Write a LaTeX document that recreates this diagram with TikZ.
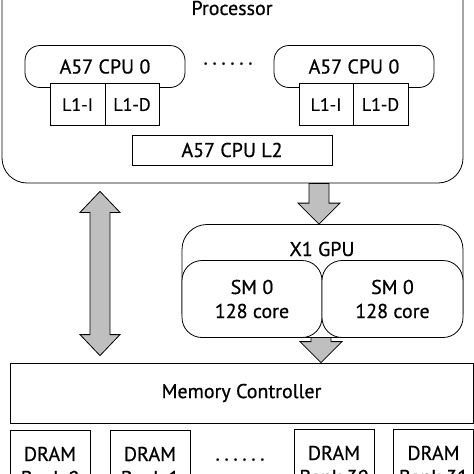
\documentclass[tikz,border=0pt]{standalone}
\usepackage{fontspec}
\setmainfont[FakeBold=0.6]{PT Sans}
\usetikzlibrary{calc}

% block arrows: shaft from #1, tip at #2
\newcommand\fatdown[2]{%
  \draw[fat] ($(#1)+(-10,0)$) -- ($(#2)+(-10,-21)$) -- ($(#2)+(-21,-21)$) -- (#2)
    -- ($(#2)+(21,-21)$) -- ($(#2)+(10,-21)$) -- ($(#1)+(10,0)$) -- cycle;}
\newcommand\fatboth[2]{%
  \draw[fat] (#1) -- ($(#1)+(20,21)$) -- ($(#1)+(10,21)$) -- ($(#2)+(10,-21)$) -- ($(#2)+(20,-21)$)
    -- (#2) -- ($(#2)+(-20,-21)$) -- ($(#2)+(-10,-21)$) -- ($(#1)+(-10,21)$) -- ($(#1)+(-20,21)$) -- cycle;}
\newcommand\sixdots{\textperiodcentered\kern3.6pt\textperiodcentered\kern3.6pt\textperiodcentered\kern3.6pt\textperiodcentered\kern3.6pt\textperiodcentered\kern3.6pt\textperiodcentered}

\begin{document}
\begin{tikzpicture}[
		x=1pt, y=-1pt, line width=0.8pt,
		every node/.style={font=\fontsize{20}{24}\selectfont},
		box/.style={draw, fill=white, inner sep=0pt},
		rbox/.style={box, rounded corners=15pt},
		fat/.style={draw, fill=black!25, line join=miter},
		small/.style={font=\fontsize{18}{20}\selectfont},
	]
	\useasboundingbox (0,0) rectangle (474,474);
	\clip (0,0) rectangle (474,474);
	% processor
	\node[rbox, rounded corners=25pt, minimum width=461pt, minimum height=230pt] (proc) at (232.5,68) {};
	\node (proctitle) at (232,8) {Processor};
	\node[rbox, minimum width=160pt, minimum height=42pt] (cpuA) at (105,66.5) {A57 CPU 0};
	\node[rbox, minimum width=160pt, minimum height=42pt] (cpuB) at (354,66.5) {A57 CPU 0};
	\node (cpudots) at (228,66) {\sixdots};
	\node[box, small, minimum width=55pt, minimum height=42pt] (liA) at (77.5,104.5) {L1-I};
	\node[box, small, minimum width=54pt, minimum height=42pt] (ldA) at (132,104.5) {L1-D};
	\node[box, small, minimum width=54pt, minimum height=42pt] (liB) at (326,104.5) {L1-I};
	\node[box, small, minimum width=55pt, minimum height=42pt] (ldB) at (380.5,104.5) {L1-D};
	\node[box, minimum width=200pt, minimum height=30pt] (ltwo) at (232,150) {A57 CPU L2};
	% memory side
	\node[box, minimum width=463pt, minimum height=60pt] (mc) at (241.5,393) {Memory Controller};
	\coordinate (gpuOut) at (321,328);
	\fatdown{gpuOut}{gpuOut |- mc.north}
	% gpu
	\node[rbox, rounded corners=25pt, minimum width=281pt, minimum height=113pt] (gpu) at (322.5,281) {};
	\node (gputitle) at (322,249) {X1 GPU};
	\node[rbox, rounded corners=20pt, minimum width=140pt, minimum height=77pt, align=center] (smA) at (252,299) {SM 0\\128 core};
	\node[rbox, rounded corners=20pt, minimum width=141pt, minimum height=77pt, align=center] (smB) at (392.5,299) {SM 0\\128 core};
	\coordinate (procOut) at (proc.south -| 319,0);
	\fatdown{procOut}{procOut |- gpu.north}
	% bus
	\coordinate (busTop) at ($(proc.south -| 100,0)+(0,8)$);
	\coordinate (busBot) at ($(mc.north -| 100,0)+(0,-7)$);
	\fatboth{busTop}{busBot}
	% dram banks
	\node[box, minimum width=80pt, minimum height=72pt, align=center] (bank0) at (50,466) {DRAM\\Bank 0};
	\node[box, minimum width=80pt, minimum height=72pt, align=center] (bank1) at (150,466) {DRAM\\Bank 1};
	\node (bankdots) at (240,462) {\sixdots};
	\node[box, minimum width=80pt, minimum height=72pt, align=center] (bank30) at (334,465) {DRAM\\Bank 30};
	\node[box, minimum width=80pt, minimum height=72pt, align=center] (bank31) at (433.5,465) {DRAM\\Bank 31};
\end{tikzpicture}
\end{document}
